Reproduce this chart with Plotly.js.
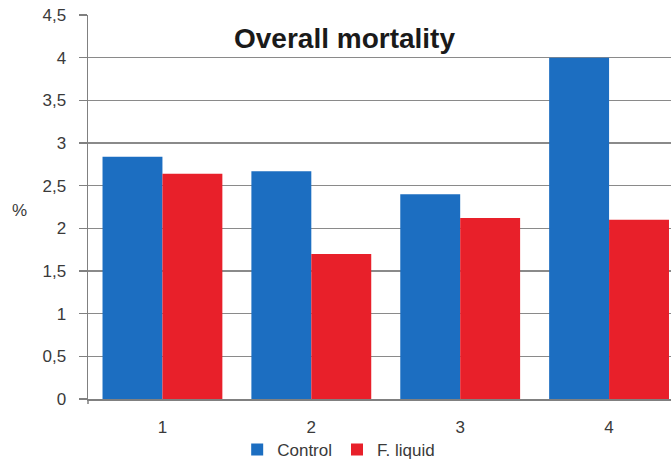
<!DOCTYPE html>
<html>
<head>
<meta charset="utf-8">
<script src="https://cdn.plot.ly/plotly-3.0.1.min.js"></script>
<style>html,body{margin:0;padding:0;background:#fff;}#chart{width:671px;height:463px;}</style>
</head>
<body>
<div id="chart"></div>
<script>
const categories = ["1", "2", "3", "4"];
const controlValues = [2.84, 2.67, 2.40, 4.00];
const liquidValues = [2.64, 1.70, 2.12, 2.10];
const seriesNames = ["Control", "F. liquid"];
const yTicks = [0, 0.5, 1, 1.5, 2, 2.5, 3, 3.5, 4, 4.5];

const traces = [
  {type: "bar", name: seriesNames[0], x: categories, y: controlValues, marker: {color: "#1C6EC1"}},
  {type: "bar", name: seriesNames[1], x: categories, y: liquidValues, marker: {color: "#E8202A"}}
];

const layout = {
  width: 671, height: 463,
  margin: {l: 88, r: 0, t: 15, b: 64, autoexpand: false},
  paper_bgcolor: "#fff", plot_bgcolor: "#fff",
  separators: ",.",
  barmode: "group", bargap: 0.195, bargroupgap: 0,
  font: {family: "Liberation Sans, Arial, sans-serif", color: "#3a3a3a"},
  showlegend: true,
  legend: {orientation: "h", x: 0.43, xanchor: "center", yref: "container", y: 0.028, yanchor: "middle",
           bgcolor: "rgba(0,0,0,0)", font: {size: 17, color: "#3a3a3a"}, itemwidth: 30, traceorder: "normal"},
  xaxis: {type: "category", range: [-0.5, 3.416], showgrid: false, showline: true,
          linecolor: "#808080", linewidth: 1.5, ticks: "", tickfont: {size: 17, color: "#3a3a3a"},
          ticklabelstandoff: 12, zeroline: false, automargin: false},
  yaxis: {range: [0, 4.5], tickvals: yTicks, showgrid: true, gridcolor: "#8a8a8a", gridwidth: 1.5,
          showline: true, linecolor: "#808080", linewidth: 1.5, ticks: "outside", ticklen: 8,
          tickcolor: "#808080", tickwidth: 1.5, tickfont: {size: 17, color: "#3a3a3a"},
          zeroline: false, ticklabelstandoff: 9, automargin: false},
  shapes: [{type: "line", xref: "paper", yref: "paper", x0: 0, x1: 0, y0: 0, y1: -0.013,
            line: {color: "#808080", width: 1.5}}],
  annotations: [
    {text: "<b>Overall mortality</b>", xref: "paper", yref: "paper", x: 0.44, y: 0.94,
     xanchor: "center", yanchor: "middle", showarrow: false,
     font: {size: 28, color: "#1a1a1a"}},
    {text: "%", xref: "paper", yref: "paper", x: -0.117, y: 0.49, xanchor: "center", yanchor: "middle",
     showarrow: false, font: {size: 17, color: "#3a3a3a"}}
  ]
};

Plotly.newPlot("chart", traces, layout, {displayModeBar: false, staticPlot: true});
</script>
</body>
</html>
